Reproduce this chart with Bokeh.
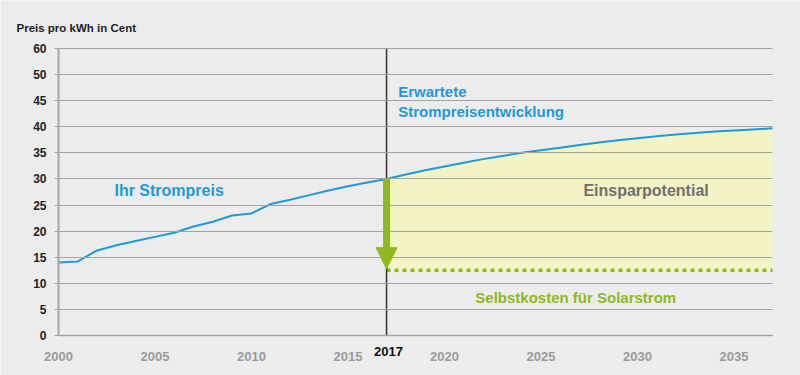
from bokeh.plotting import figure
from bokeh.models import (Range1d, FixedTicker, Label, Arrow, NormalHead)
from bokeh.embed import file_html
from bokeh.resources import INLINE

# ---- data ----
hist_years = list(range(2000, 2018))
hist_price = [14.0, 14.2, 16.3, 17.3, 18.1, 18.9, 19.7, 20.9, 21.8, 23.0, 23.4,
              25.2, 26.0, 26.9, 27.8, 28.6, 29.3, 30.0]

fc_years = list(range(2017, 2038))
fc_price = [30.0, 30.85, 31.65, 32.4, 33.1, 33.8, 34.4, 35.0, 35.5, 36.0, 36.5,
            37.0, 37.4, 37.8, 38.2, 38.5, 38.8, 39.1, 39.3, 39.5, 39.7]

solar_cost = 12.5
ref_year = 2017

x_ticks = [2000, 2005, 2010, 2015, 2020, 2025, 2030, 2035]
y_tick_labels = ["0", "5", "10", "15", "20", "25", "30", "35", "40", "45", "50", "60"]

FONT = "Liberation Sans"
BG = "#ececec"
BLUE = "#1e9ad6"
GREEN = "#8dba1c"
YELLOW = "#f3f3c6"
GRID = "#a3a3a3"

y_pos = [5 * i for i in range(len(y_tick_labels))]
y_top = y_pos[-1]
x_first, x_last = hist_years[0], fc_years[-1]

# layout in pixels: scale drawn from x=58..772 and y=335 (value 0) .. 48 (top tick)
W, H = 800, 375
L_PX, R_PX, T_PX, B_PX = 58, 772, 48, 335
ppx = (R_PX - L_PX) / (x_last - x_first)
ppy = (B_PX - T_PX) / y_top
x_range = Range1d(x_first - L_PX / ppx, x_last + (W - R_PX) / ppx)
y_range = Range1d(-(H - B_PX) / ppy, y_top + T_PX / ppy)

p = figure(width=W, height=H, output_backend="svg", toolbar_location=None,
           x_range=x_range, y_range=y_range,
           min_border_left=0, min_border_right=0, min_border_top=0,
           min_border_bottom=0)
p.background_fill_color = BG
p.border_fill_color = BG
p.outline_line_color = None

# x axis at value 0
p.xaxis.fixed_location = 0
p.xaxis.bounds = (x_first, x_last)
p.xaxis.ticker = FixedTicker(ticks=x_ticks)
p.xaxis.major_label_text_font = FONT
p.xaxis.major_label_text_font_size = "13px"
p.xaxis.major_label_text_font_style = "bold"
p.xaxis.major_label_text_color = "#9a9a9a"
p.xaxis.major_tick_line_color = None
p.xaxis.minor_tick_line_color = None
p.xaxis.axis_line_color = GRID
p.xaxis.axis_line_width = 1.5
p.xaxis.major_label_standoff = 10

# y axis at the first year
p.yaxis.fixed_location = x_first
p.yaxis.ticker = FixedTicker(ticks=y_pos)
p.yaxis.bounds = (0, y_top)
p.yaxis.major_label_overrides = {pos: lab for pos, lab in zip(y_pos, y_tick_labels)}
p.yaxis.major_label_text_font = FONT
p.yaxis.major_label_text_font_size = "12px"
p.yaxis.major_label_text_font_style = "bold"
p.yaxis.major_label_text_color = "#222222"
p.yaxis.major_tick_line_color = GRID
p.yaxis.major_tick_in = 0
p.yaxis.major_tick_out = 4
p.yaxis.minor_tick_line_color = None
p.yaxis.axis_line_color = GRID
p.yaxis.axis_line_width = 2
p.yaxis.major_label_standoff = 8

p.xgrid.grid_line_color = None
p.ygrid.grid_line_color = GRID
p.ygrid.grid_line_width = 1
p.ygrid.level = "glyph"
p.ygrid.cross_bounds = (x_first, x_last)

# savings area
p.varea(x=fc_years, y1=[solar_cost] * len(fc_years), y2=fc_price,
        fill_color=YELLOW, level="underlay")

# price lines
p.line(hist_years, hist_price, line_color=BLUE, line_width=2)
p.line(fc_years, fc_price, line_color=BLUE, line_width=2)

# solar cost dotted line
p.line([ref_year, x_last], [solar_cost, solar_cost], line_color=GREEN,
       line_width=3.5, line_dash="4 4")

# vertical 2017 marker (from 0 to the top of the scale)
p.segment(x0=[ref_year], y0=[0], x1=[ref_year], y1=[y_top],
          line_color="#333333", line_width=1.5)

# arrow
p.add_layout(Arrow(x_start=ref_year, y_start=fc_price[0], x_end=ref_year,
                   y_end=solar_cost + 0.3, line_color=GREEN, line_width=7,
                   end=NormalHead(size=21, fill_color=GREEN, line_color=GREEN)))

# 2017 tick label (black)
p.add_layout(Label(x=ref_year, y=0, y_offset=-11, x_offset=2, text=str(ref_year),
                   text_align="center", text_baseline="top",
                   text_font=FONT, text_font_size="13px", text_font_style="bold",
                   text_color="#111111"))

# axis title
p.add_layout(Label(x=x_first, y=y_top, x_offset=-42, y_offset=21,
                   text="Preis pro kWh in Cent", text_align="left",
                   text_baseline="middle", text_font=FONT,
                   text_font_size="11.5px", text_font_style="bold",
                   text_color="#222222"))

def lab(x, y, text, color, size="15px"):
    p.add_layout(Label(x=x, y=y, text=text, text_align="left",
                       text_baseline="middle", text_font=FONT,
                       text_font_size=size, text_font_style="bold",
                       text_color=color))

lab(2002.9, 27.8, "Ihr Strompreis", BLUE, "16px")
lab(2017.6, 46.8, "Erwartete", BLUE)
lab(2017.6, 43.0, "Strompreisentwicklung", BLUE)
lab(2027.2, 27.8, "Einsparpotential", "#6f6f6f", "16px")
lab(2021.6, 7.3, "Selbstkosten für Solarstrom", GREEN)

open("out.html", "w").write(file_html(p, INLINE))
